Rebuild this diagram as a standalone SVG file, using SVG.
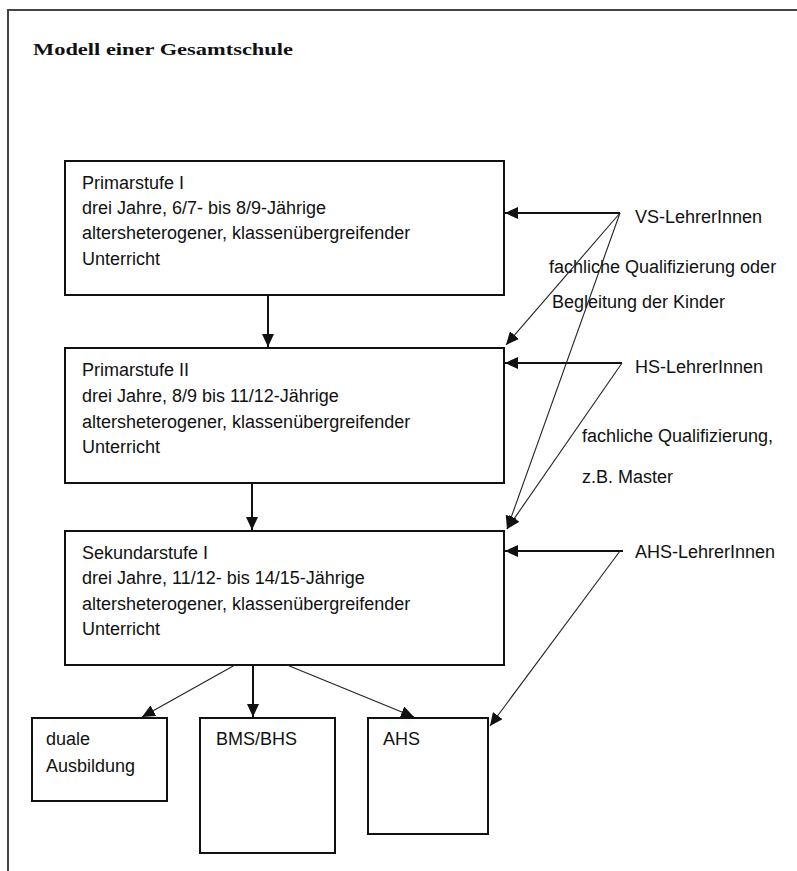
<svg xmlns="http://www.w3.org/2000/svg" width="797" height="871" viewBox="0 0 797 871">
<style>
.box{fill:#fff;stroke:#111;stroke-width:2}
.t{font-family:"Liberation Sans",Arial,sans-serif;font-size:18px;fill:#111}
.title{font-family:"Liberation Serif","Times New Roman",serif;font-size:17px;font-weight:bold;fill:#111}
.solid{stroke:#111;stroke-width:2;fill:none}
.thin{stroke:#222;stroke-width:1.1;fill:none}
</style>
<defs>
<marker id="ah" markerUnits="userSpaceOnUse" markerWidth="14" markerHeight="12" refX="13" refY="6" orient="auto">
<path d="M0,0 L13,6 L0,12 Z" fill="#111"/>
</marker>
</defs>
<rect width="797" height="871" fill="#fff"/>
<path d="M8,871 V10 H797" fill="none" stroke="#444" stroke-width="2"/>
<text class="title" x="33" y="55" textLength="260" lengthAdjust="spacingAndGlyphs">Modell einer Gesamtschule</text>

<g id="primar1">
<rect class="box" x="65" y="161" width="439" height="134"/>
<text class="t" x="82" y="189">Primarstufe I</text>
<text class="t" x="82" y="214">drei Jahre, 6/7- bis 8/9-Jährige</text>
<text class="t" x="82" y="239">altersheterogener, klassenübergreifender</text>
<text class="t" x="82" y="265">Unterricht</text>
</g>
<g id="primar2">
<rect class="box" x="65" y="348" width="439" height="135"/>
<text class="t" x="82" y="376">Primarstufe II</text>
<text class="t" x="82" y="402">drei Jahre, 8/9 bis 11/12-Jährige</text>
<text class="t" x="82" y="428">altersheterogener, klassenübergreifender</text>
<text class="t" x="82" y="453">Unterricht</text>
</g>
<g id="sekundar1">
<rect class="box" x="65" y="531" width="439" height="134"/>
<text class="t" x="82" y="559">Sekundarstufe I</text>
<text class="t" x="82" y="584">drei Jahre, 11/12- bis 14/15-Jährige</text>
<text class="t" x="82" y="610">altersheterogener, klassenübergreifender</text>
<text class="t" x="82" y="635">Unterricht</text>
</g>
<g id="duale">
<rect class="box" x="32" y="718" width="135" height="83"/>
<text class="t" x="46" y="745">duale</text>
<text class="t" x="46" y="772">Ausbildung</text>
</g>
<g id="bms">
<rect class="box" x="200" y="718" width="135" height="135"/>
<text class="t" x="216" y="745">BMS/BHS</text>
</g>
<g id="ahs">
<rect class="box" x="368" y="718" width="120" height="116"/>
<text class="t" x="383" y="745">AHS</text>
</g>
<g id="vs">
<text class="t" x="635" y="223">VS-LehrerInnen</text>
</g>
<g id="hs">
<text class="t" x="635" y="373">HS-LehrerInnen</text>
</g>
<g id="ahsl">
<text class="t" x="635" y="558">AHS-LehrerInnen</text>
</g>
<g id="labels">
<text class="t" x="549" y="273">fachliche Qualifizierung oder</text>
<text class="t" x="552" y="308">Begleitung der Kinder</text>
<text class="t" x="582" y="442">fachliche Qualifizierung,</text>
<text class="t" x="582" y="483">z.B. Master</text>
</g>

<g id="connectors">
<line class="solid" x1="268" y1="295" x2="268" y2="347" marker-end="url(#ah)"/>
<line class="solid" x1="252" y1="483" x2="252" y2="530" marker-end="url(#ah)"/>
<line class="solid" x1="253" y1="665" x2="253" y2="717" marker-end="url(#ah)"/>
<line class="thin" x1="235" y1="665" x2="142" y2="717" marker-end="url(#ah)"/>
<line class="thin" x1="287" y1="665" x2="414" y2="717" marker-end="url(#ah)"/>
<line class="solid" x1="620" y1="213" x2="505" y2="213" marker-end="url(#ah)"/>
<line class="solid" x1="622" y1="363" x2="505" y2="363" marker-end="url(#ah)"/>
<line class="solid" x1="623" y1="551" x2="505" y2="551" marker-end="url(#ah)"/>
<line class="thin" x1="620" y1="213" x2="506" y2="345" marker-end="url(#ah)"/>
<line class="thin" x1="620" y1="213" x2="507" y2="529" marker-end="url(#ah)"/>
<line class="thin" x1="622" y1="363" x2="507" y2="529" marker-end="url(#ah)"/>
<line class="thin" x1="620" y1="551" x2="490" y2="726" marker-end="url(#ah)"/>
</g>
</svg>
